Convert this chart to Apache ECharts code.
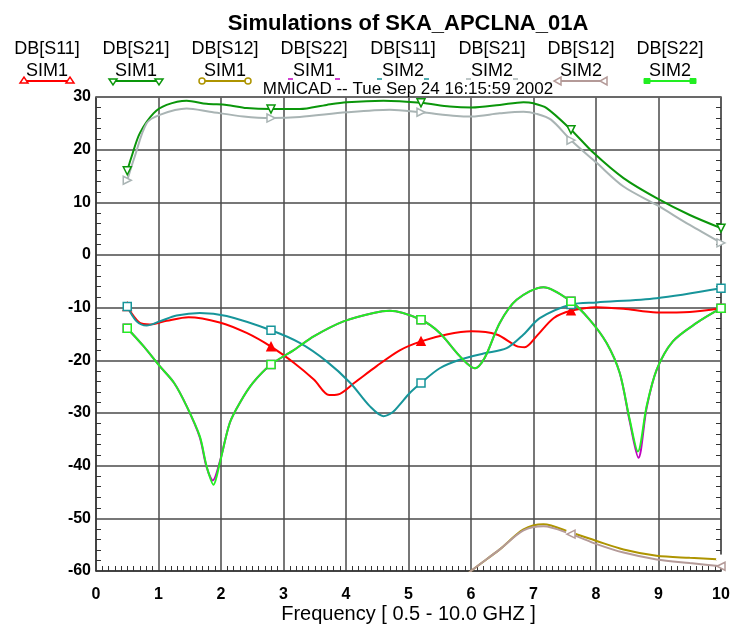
<!DOCTYPE html>
<html>
<head>
<meta charset="utf-8">
<script src="https://cdn.jsdelivr.net/npm/echarts@6/dist/echarts.min.js"></script>
<style>
    html, body { margin: 0; background: #fff; }
    #chart { width: 731px; height: 624px; }
</style>
</head>
<body>
<div id="chart"></div>
<script>
    // values: [frequency GHz, dB]
    var markerFreqs = [0.5, 2.8, 5.2, 7.6, 10];

    var s11Sim1 = [[0.5,-9.8],[0.7,-12.9],[0.86,-13.2],[1.13,-12.5],[1.48,-11.8],[1.98,-12.8],[2.41,-14.8],[2.8,-17.4],[3.17,-20.5],[3.49,-23.7],[3.73,-26.6],[3.87,-26.5],[4.13,-24.3],[4.49,-21.1],[4.86,-18.1],[5.2,-16.4],[5.61,-15.1],[6.01,-14.5],[6.41,-15.1],[6.73,-17.3],[6.86,-17.5],[7.05,-15.4],[7.32,-12.0],[7.6,-10.6],[8.01,-9.9],[8.44,-10.2],[8.97,-10.9],[9.5,-10.8],[10,-10.1]];
    var s21Sim1 = [[0.5,16.0],[0.57,18.7],[0.7,23.1],[0.92,26.9],[1.13,28.5],[1.45,29.3],[1.77,28.7],[2.09,28.5],[2.41,27.9],[2.8,27.7],[3.26,27.7],[3.69,28.5],[4.01,29.0],[4.6,29.3],[5.2,28.9],[5.66,28.2],[6.01,28.0],[6.46,28.5],[6.84,29.0],[7.0,28.8],[7.21,27.9],[7.6,23.8],[7.96,19.4],[8.44,14.6],[8.97,10.8],[9.5,7.6],[10,5.1]];
    var s12Sim1 = [[5.9,-61.2],[6.0,-60],[6.46,-55.9],[6.84,-52.1],[7.16,-51.1],[7.6,-52.7],[8.01,-54.3],[8.44,-55.9],[8.97,-57.1],[9.5,-57.5],[10,-57.8]];
    var s22Sim1 = [[0.5,-13.9],[0.76,-17.3],[1.02,-21.1],[1.25,-24.3],[1.45,-28.7],[1.66,-34.6],[1.77,-40.3],[1.87,-42.8],[1.98,-39.3],[2.14,-31.9],[2.3,-28.1],[2.51,-24.3],[2.8,-20.8],[3.17,-18.0],[3.49,-15.4],[3.96,-12.6],[4.44,-11.0],[4.7,-10.6],[5.2,-12.3],[5.5,-14.8],[5.82,-19.2],[6.06,-21.5],[6.22,-19.5],[6.46,-12.9],[6.73,-8.5],[7.16,-6.1],[7.6,-8.8],[7.9,-12.3],[8.17,-16.7],[8.38,-22.4],[8.54,-31.6],[8.68,-38.5],[8.81,-29.0],[8.97,-21.8],[9.23,-16.4],[9.61,-12.9],[10,-10.1]];
    var s11Sim2 = [[0.5,-9.8],[0.65,-12.6],[0.81,-13.4],[1.02,-12.6],[1.29,-11.5],[1.66,-11.0],[2.09,-11.6],[2.8,-14.3],[3.26,-16.7],[3.69,-20.2],[4.07,-24.3],[4.38,-28.7],[4.6,-30.6],[4.75,-29.8],[4.86,-28.4],[5.02,-26.2],[5.2,-24.3],[5.5,-21.5],[5.82,-19.9],[6.2,-18.7],[6.57,-17.7],[6.84,-15.1],[7.1,-12.0],[7.6,-9.4],[8.01,-9.0],[8.97,-8.2],[10,-6.3]];
    var s21Sim2 = [[0.5,14.2],[0.62,18.7],[0.81,25.0],[1.02,26.6],[1.45,27.8],[1.82,27.2],[2.36,26.3],[2.8,26.0],[3.26,26.2],[4.01,27.1],[4.7,27.6],[5.2,27.1],[5.77,26.4],[6.01,26.3],[6.46,26.9],[6.84,27.2],[7.05,26.8],[7.28,25.7],[7.6,21.8],[8.01,17.5],[8.44,13.0],[8.97,9.5],[9.5,5.7],[10,2.3]];
    var s12Sim2 = [[5.9,-61.2],[6.0,-60],[6.46,-55.9],[6.84,-52.3],[7.16,-51.5],[7.6,-53.0],[8.01,-54.9],[8.44,-56.5],[8.97,-57.8],[9.5,-58.5],[10,-59.1]];
    var s22Sim2 = [[0.5,-13.9],[0.76,-17.3],[1.02,-21.1],[1.25,-24.3],[1.45,-28.7],[1.66,-34.4],[1.77,-40.1],[1.88,-43.6],[1.98,-39.5],[2.14,-31.9],[2.3,-28.1],[2.51,-24.3],[2.8,-20.8],[3.17,-18.0],[3.49,-15.4],[3.96,-12.6],[4.44,-11.0],[4.7,-10.6],[5.2,-12.3],[5.5,-14.8],[5.82,-19.2],[6.06,-21.5],[6.22,-19.5],[6.46,-12.9],[6.73,-8.5],[7.16,-6.1],[7.6,-8.8],[7.9,-12.3],[8.17,-16.7],[8.38,-22.4],[8.54,-31.3],[8.67,-37.3],[8.81,-28.7],[8.97,-21.8],[9.23,-16.4],[9.61,-12.9],[10,-10.1]];

    var seriesNames = ['DB[S11]', 'DB[S21]', 'DB[S12]', 'DB[S22]', 'DB[S11]', 'DB[S21]', 'DB[S12]', 'DB[S22]'];
    var simNames = ['SIM1', 'SIM1', 'SIM1', 'SIM1', 'SIM2', 'SIM2', 'SIM2', 'SIM2'];
    var seriesData = [s11Sim1, s21Sim1, s12Sim1, s22Sim1, s11Sim2, s21Sim2, s12Sim2, s22Sim2];

    var colors = ['#ff0000', '#0a960a', '#ae9400', '#c000c0', '#17959a', '#a9b4b4', '#b49a98', '#22ee22'];
    var markerKinds = ['triUp', 'triDown', 'circle', 'rect', 'rect', 'triRight', 'triLeft', 'rect'];
    var legendFull = [true, true, true, false, false, false, true, true];

    var chart = echarts.init(document.getElementById('chart'));
    var font = 'Liberation Sans, Arial, sans-serif';

    function seriesSymbol(kind) {
        if (kind === 'triUp' || kind === 'triDown' || kind === 'triRight' || kind === 'triLeft') return 'triangle';
        if (kind === 'circle') return 'emptyCircle';
        return 'rect';
    }
    function seriesRotate(kind) {
        if (kind === 'triDown') return 180;
        if (kind === 'triRight') return -90;
        if (kind === 'triLeft') return 90;
        return 0;
    }

    // small end markers of the legend samples
    function legendMarker(kind, x, y, color) {
        if (kind === 'circle') {
            return { type: 'circle', shape: { cx: x, cy: y, r: 3 }, style: { fill: '#fff', stroke: color, lineWidth: 1.5 } };
        }
        if (kind === 'rect') {
            return { type: 'rect', shape: { x: x - 3, y: y - 2.5, width: 6, height: 5 }, style: { fill: color, stroke: color } };
        }
        var pts;
        if (kind === 'triUp') pts = [[x - 4, y + 2], [x + 4, y + 2], [x, y - 4]];
        else if (kind === 'triDown') pts = [[x - 4, y - 2], [x + 4, y - 2], [x, y + 4]];
        else if (kind === 'triRight') pts = [[x - 3, y - 4], [x - 3, y + 4], [x + 4, y]];
        else pts = [[x + 3, y - 4], [x + 3, y + 4], [x - 4, y]];
        return { type: 'polygon', shape: { points: pts }, style: { fill: '#fff', stroke: color, lineWidth: 1.5 } };
    }

    function centredText(text, x, y, size, weight, z) {
        return {
            type: 'text', x: x, y: y, z: z || 1,
            style: { text: text, font: (weight ? weight + ' ' : '') + size + 'px ' + font, fill: '#000', align: 'center', verticalAlign: 'middle', textAlign: 'center', textVerticalAlign: 'middle' }
        };
    }

    var graphics = [
        centredText('Simulations of SKA_APCLNA_01A', 408, 24, 22, 'bold'),
        centredText('MMICAD -- Tue Sep 24 16:15:59 2002', 408, 89, 17, '', 10)
    ];
    for (var i = 0; i < seriesNames.length; i++) {
        var cx = 47 + 89 * i;
        graphics.push(centredText(seriesNames[i], cx, 49, 18));
        graphics.push(centredText(simNames[i], cx, 71, 18));
        if (legendFull[i]) {
            graphics.push({ type: 'line', shape: { x1: cx - 23, y1: 81, x2: cx + 23, y2: 81 }, style: { stroke: colors[i], lineWidth: 2 } });
            graphics.push(legendMarker(markerKinds[i], cx - 23, 81, colors[i]));
            graphics.push(legendMarker(markerKinds[i], cx + 23, 81, colors[i]));
        } else {
            graphics.push({ type: 'line', shape: { x1: cx - 26, y1: 79, x2: cx - 21, y2: 79 }, style: { stroke: colors[i], lineWidth: 1.5 } });
            graphics.push({ type: 'line', shape: { x1: cx + 21, y1: 79, x2: cx + 26, y2: 79 }, style: { stroke: colors[i], lineWidth: 1.5 } });
        }
    }

    var series = seriesData.map(function (arr, idx) {
        return {
            name: seriesNames[idx] + ' ' + simNames[idx],
            type: 'line',
            smooth: 0.3,
            showAllSymbol: true,
            symbolSize: 8,
            symbolRotate: seriesRotate(markerKinds[idx]),
            clip: true,
            lineStyle: { color: colors[idx], width: 2 },
            itemStyle: { color: markerKinds[idx] === 'triUp' ? colors[idx] : '#fff', borderColor: colors[idx], borderWidth: 1.5 },
            emphasis: { disabled: true },
            data: arr.map(function (p) {
                var mark = markerFreqs.indexOf(p[0]) >= 0;
                return { value: p, symbol: mark ? seriesSymbol(markerKinds[idx]) : 'none' };
            })
        };
    });

    chart.setOption({
        animation: false,
        backgroundColor: '#fff',
        graphic: graphics,
        grid: { left: 96, right: 10, top: 97, bottom: 53, outerBoundsMode: 'none', containLabel: false },
        xAxis: [
            {
                type: 'value', min: 0, max: 10, interval: 1,
                name: 'Frequency [ 0.5 - 10.0 GHZ ]', nameLocation: 'middle', nameGap: 33, nameMoveOverlap: false,
                nameTextStyle: { fontSize: 20, fontFamily: font, color: '#000' },
                axisLine: { onZero: false, lineStyle: { color: '#333', width: 1.5 } },
                axisTick: { show: false, inside: true },
                minorTick: { show: true, splitNumber: 10, length: 5, lineStyle: { color: '#333' } },
                axisLabel: { fontSize: 16, fontWeight: 'bold', fontFamily: font, color: '#000', margin: 16 },
                splitLine: { show: true, lineStyle: { color: '#4a4a4a', width: 1.5 } }
            },
            {
                type: 'value', min: 0, max: 10, interval: 1, position: 'top',
                axisLine: { onZero: false, lineStyle: { color: '#666', width: 1.5 } },
                axisTick: { show: false }, axisLabel: { show: false }, splitLine: { show: false }
            }
        ],
        yAxis: [
            {
                type: 'value', min: -60, max: 30, interval: 10,
                axisLine: { show: true, onZero: false, lineStyle: { color: '#333', width: 1.5 } },
                axisTick: { show: false, inside: true },
                minorTick: { show: true, splitNumber: 5, length: 5, lineStyle: { color: '#333' } },
                axisLabel: { fontSize: 16, fontWeight: 'bold', fontFamily: font, color: '#000', margin: 5 },
                splitLine: { show: true, lineStyle: { color: '#4a4a4a', width: 1.5 } }
            },
            {
                type: 'value', min: -60, max: 30, interval: 10, position: 'right',
                axisLine: { show: true, onZero: false, lineStyle: { color: '#555', width: 1.5 } },
                axisTick: { show: false, inside: true },
                minorTick: { show: true, splitNumber: 5, length: 5, lineStyle: { color: '#333' } },
                axisLabel: { show: false }, splitLine: { show: false }
            }
        ],
        series: series
    });
</script>
</body>
</html>
